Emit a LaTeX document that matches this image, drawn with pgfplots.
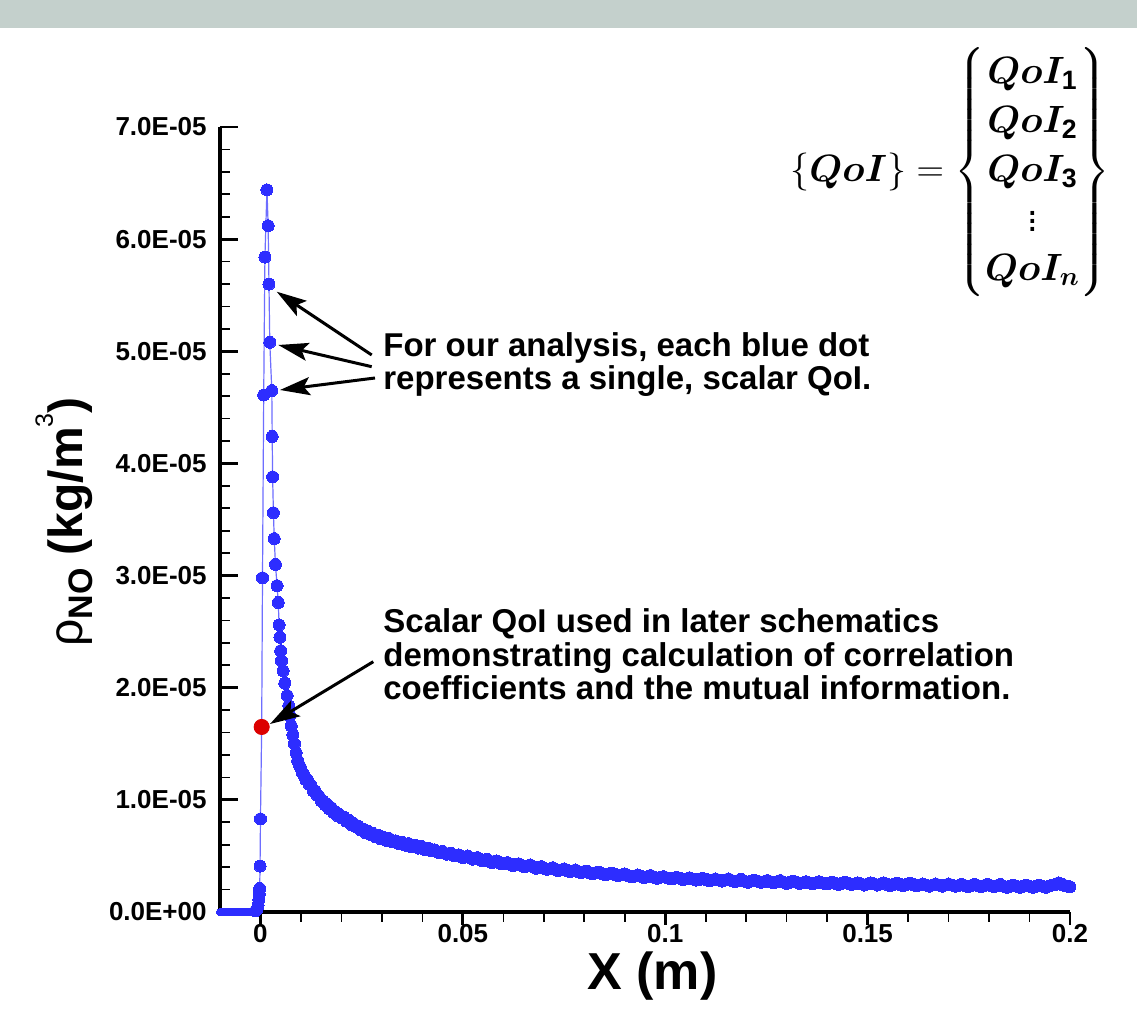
\RequirePackage{fix-cm}
\documentclass[border=0pt]{standalone}
\usepackage{amsmath}
\usepackage{bm}
\usepackage{fontspec}
\setmainfont{Liberation Sans}
\usepackage{pgfplots}
\pgfplotsset{compat=1.18}
\usetikzlibrary{arrows.meta}
\definecolor{dotblue}{RGB}{45,45,255}
\definecolor{lineblue}{RGB}{110,110,255}
\definecolor{dotred}{RGB}{220,0,0}
\definecolor{band}{RGB}{196,208,204}
\begin{document}
\begin{tikzpicture}[x=1pt,y=1pt]
\useasboundingbox (-110,-60.5) rectangle (458.5,456);
\fill[white] (-110,-60.5) rectangle (458.5,456);
\fill[band] (-110,442) rectangle (458.5,456);
\begin{axis}[at={(0,0)}, anchor=south west, scale only axis,
  width=425pt, height=392.5pt,
  xmin=-0.01, xmax=0.2, ymin=0, ymax=7e-5,
  axis x line=bottom, axis y line=left,
  axis line style={-, line width=1.6pt, black},
  clip=false,
  xtick={0,0.05,0.1,0.15,0.2},
  xticklabels={0,0.05,0.1,0.15,0.2},
  minor x tick num=4,
  ytick={0,1e-5,2e-5,3e-5,4e-5,5e-5,6e-5,7e-5},
  yticklabels={0.0E+00,1.0E-05,2.0E-05,3.0E-05,4.0E-05,5.0E-05,6.0E-05,7.0E-05},
  minor y tick num=4,
  tick align=inside,
  major tick length=9pt, minor tick length=5pt,
  major tick style={line width=1.4pt, black},
  minor tick style={line width=0.8pt, black},
  major x tick style={yshift=-6.5pt, /pgfplots/major tick length=6.5pt},
  minor x tick style={yshift=-5pt},
  yticklabel style={font=\fontsize{13}{15}\selectfont\bfseries, anchor=east, inner sep=0pt, xshift=-6.5pt},
  xticklabel style={font=\fontsize{13}{15}\selectfont\bfseries, anchor=north, inner sep=0pt, yshift=-6pt},
  scaled y ticks=false, scaled x ticks=false,
  every axis plot/.append style={mark options={draw=dotblue, fill=dotblue, line width=0pt}},
]
% flat part before the rise
\addplot[lineblue, line width=0.6pt, mark=*, mark size=1.8pt] coordinates {
(-0.0100,0) (-0.0095,0) (-0.0090,0) (-0.0085,0) (-0.0080,0) (-0.0075,0) (-0.0070,0) (-0.0065,0)
(-0.0060,0) (-0.0055,0) (-0.0050,0) (-0.0045,0) (-0.0040,0) (-0.0035,0) (-0.0030,0) (-0.0025,0)
(-0.0020,0) (-0.0015,0) (-0.0012,0.1e-6)
};
% rise, peak and decay
\addplot[lineblue, line width=0.6pt, mark=*, mark size=3pt] table[x=x, y=y] {
x y
-0.0012 0.1e-6
-0.0008 0.3e-6
-0.0006 0.6e-6
-0.0004 1.1e-6
-0.0003 1.6e-6
-0.0002 2.1e-6
-0.0001 4.1e-6
0.0000 8.3e-6
0.0003 1.65e-5
0.0005 2.98e-5
0.0008 4.61e-5
0.0011 5.84e-5
0.0016 6.44e-5
0.0019 6.12e-5
0.0021 5.60e-5
0.0023 5.08e-5
0.0028 4.65e-5
0.0029 4.24e-5
0.0030 3.88e-5
0.0032 3.56e-5
0.0034 3.33e-5
0.0037 3.10e-5
0.0041 2.91e-5
0.0044 2.76e-5
0.0046 2.56e-5
0.0048 2.45e-5
0.0050 2.33e-5
0.0052 2.24e-5
0.0056 2.15e-5
0.0060 2.04e-5
0.0066 1.93e-5
0.0070 1.84e-5
0.0073 1.75e-5
0.0076 1.66e-5
0.0080 1.58e-5
0.0084 1.50e-5
0.0088 1.42e-5
0.0092 1.35e-5
0.0096 1.31e-5
0.0100 1.28e-5
0.0104 1.24e-5
0.0108 1.22e-5
0.0112 1.18e-5
0.0116 1.18e-5
0.0120 1.14e-5
0.0125 1.13e-5
0.0130 1.08e-5
0.0135 1.08e-5
0.0140 1.04e-5
0.0145 1.03e-5
0.0150 0.99e-5
0.0155 0.99e-5
0.0160 0.955e-5
0.0165 0.96e-5
0.0170 0.92e-5
0.0175 0.93e-5
0.0180 0.89e-5
0.0185 0.895e-5
0.0190 0.86e-5
0.0195 0.87e-5
0.0200 0.84e-5
0.0206 0.845e-5
0.0212 0.81e-5
0.0218 0.82e-5
0.0224 0.78e-5
0.0230 0.79e-5
0.0236 0.76e-5
0.0242 0.765e-5
0.0248 0.73e-5
0.0254 0.74e-5
0.0260 0.705e-5
0.0266 0.72e-5
0.0272 0.69e-5
0.0278 0.70e-5
0.0284 0.67e-5
0.0290 0.685e-5
0.0296 0.655e-5
0.0302 0.67e-5
0.0306 0.655e-5
0.0310 0.64e-5
0.0314 0.65e-5
0.0318 0.655e-5
0.0322 0.64e-5
0.0326 0.625e-5
0.0330 0.63e-5
0.0334 0.635e-5
0.0338 0.62e-5
0.0342 0.61e-5
0.0346 0.615e-5
0.0350 0.62e-5
0.0354 0.605e-5
0.0358 0.595e-5
0.0362 0.60e-5
0.0366 0.61e-5
0.0370 0.595e-5
0.0374 0.58e-5
0.0378 0.59e-5
0.0382 0.595e-5
0.0386 0.58e-5
0.0390 0.57e-5
0.0394 0.58e-5
0.0398 0.585e-5
0.0402 0.57e-5
0.0406 0.555e-5
0.0410 0.565e-5
0.0414 0.57e-5
0.0418 0.555e-5
0.0422 0.545e-5
0.0426 0.55e-5
0.0430 0.555e-5
0.0435 0.54e-5
0.0440 0.53e-5
0.0445 0.535e-5
0.0450 0.54e-5
0.0455 0.525e-5
0.0460 0.515e-5
0.0465 0.52e-5
0.0470 0.525e-5
0.0475 0.51e-5
0.0480 0.50e-5
0.0485 0.505e-5
0.0490 0.51e-5
0.0495 0.495e-5
0.0500 0.485e-5
0.0506 0.49e-5
0.0512 0.50e-5
0.0518 0.485e-5
0.0524 0.47e-5
0.0530 0.48e-5
0.0536 0.485e-5
0.0542 0.47e-5
0.0548 0.455e-5
0.0554 0.465e-5
0.0560 0.47e-5
0.0566 0.455e-5
0.0572 0.44e-5
0.0578 0.45e-5
0.0584 0.455e-5
0.0590 0.44e-5
0.0596 0.43e-5
0.0603 0.435e-5
0.0610 0.44e-5
0.0617 0.425e-5
0.0624 0.415e-5
0.0631 0.425e-5
0.0638 0.43e-5
0.0645 0.415e-5
0.0652 0.405e-5
0.0659 0.41e-5
0.0666 0.42e-5
0.0673 0.405e-5
0.0680 0.39e-5
0.0687 0.40e-5
0.0694 0.405e-5
0.0701 0.39e-5
0.0708 0.38e-5
0.0715 0.385e-5
0.0722 0.395e-5
0.0729 0.38e-5
0.0736 0.37e-5
0.0743 0.375e-5
0.0750 0.385e-5
0.0757 0.37e-5
0.0764 0.36e-5
0.0771 0.365e-5
0.0778 0.375e-5
0.0785 0.36e-5
0.0792 0.35e-5
0.0799 0.36e-5
0.0806 0.365e-5
0.0813 0.35e-5
0.0820 0.34e-5
0.0828 0.35e-5
0.0836 0.355e-5
0.0844 0.34e-5
0.0852 0.33e-5
0.0860 0.34e-5
0.0868 0.345e-5
0.0876 0.335e-5
0.0884 0.325e-5
0.0892 0.33e-5
0.0900 0.34e-5
0.0908 0.325e-5
0.0916 0.315e-5
0.0924 0.32e-5
0.0932 0.33e-5
0.0940 0.32e-5
0.0948 0.305e-5
0.0956 0.315e-5
0.0964 0.325e-5
0.0972 0.31e-5
0.0980 0.30e-5
0.0988 0.31e-5
0.0996 0.315e-5
0.1004 0.305e-5
0.1012 0.295e-5
0.1020 0.30e-5
0.1028 0.31e-5
0.1036 0.30e-5
0.1044 0.29e-5
0.1052 0.295e-5
0.1060 0.305e-5
0.1068 0.295e-5
0.1076 0.285e-5
0.1084 0.29e-5
0.1092 0.30e-5
0.1100 0.29e-5
0.1108 0.28e-5
0.1116 0.285e-5
0.1124 0.295e-5
0.1132 0.285e-5
0.1140 0.275e-5
0.1148 0.285e-5
0.1156 0.295e-5
0.1164 0.28e-5
0.1172 0.27e-5
0.1180 0.28e-5
0.1188 0.29e-5
0.1196 0.275e-5
0.1204 0.265e-5
0.1212 0.275e-5
0.1220 0.285e-5
0.1228 0.275e-5
0.1236 0.265e-5
0.1244 0.27e-5
0.1252 0.28e-5
0.1260 0.27e-5
0.1268 0.26e-5
0.1276 0.27e-5
0.1284 0.28e-5
0.1292 0.265e-5
0.1300 0.255e-5
0.1308 0.265e-5
0.1316 0.275e-5
0.1324 0.265e-5
0.1332 0.255e-5
0.1340 0.26e-5
0.1348 0.27e-5
0.1356 0.26e-5
0.1364 0.25e-5
0.1372 0.26e-5
0.1380 0.27e-5
0.1388 0.26e-5
0.1396 0.25e-5
0.1404 0.255e-5
0.1412 0.265e-5
0.1420 0.255e-5
0.1428 0.245e-5
0.1436 0.255e-5
0.1444 0.265e-5
0.1452 0.255e-5
0.1460 0.245e-5
0.1468 0.25e-5
0.1476 0.26e-5
0.1484 0.25e-5
0.1492 0.24e-5
0.1500 0.25e-5
0.1508 0.26e-5
0.1516 0.25e-5
0.1524 0.24e-5
0.1532 0.25e-5
0.1540 0.26e-5
0.1548 0.245e-5
0.1556 0.235e-5
0.1564 0.245e-5
0.1572 0.255e-5
0.1580 0.245e-5
0.1588 0.235e-5
0.1596 0.245e-5
0.1604 0.255e-5
0.1612 0.245e-5
0.1620 0.235e-5
0.1628 0.24e-5
0.1636 0.25e-5
0.1644 0.24e-5
0.1652 0.23e-5
0.1660 0.24e-5
0.1668 0.25e-5
0.1676 0.24e-5
0.1684 0.23e-5
0.1692 0.24e-5
0.1700 0.25e-5
0.1708 0.24e-5
0.1716 0.23e-5
0.1724 0.235e-5
0.1732 0.245e-5
0.1740 0.235e-5
0.1748 0.225e-5
0.1756 0.235e-5
0.1764 0.245e-5
0.1772 0.235e-5
0.1780 0.225e-5
0.1788 0.235e-5
0.1796 0.245e-5
0.1804 0.235e-5
0.1812 0.225e-5
0.1820 0.235e-5
0.1828 0.245e-5
0.1836 0.23e-5
0.1844 0.22e-5
0.1852 0.23e-5
0.1860 0.24e-5
0.1868 0.23e-5
0.1876 0.22e-5
0.1884 0.23e-5
0.1892 0.24e-5
0.1900 0.23e-5
0.1908 0.22e-5
0.1916 0.23e-5
0.1924 0.24e-5
0.1932 0.23e-5
0.1940 0.22e-5
0.1948 0.23e-5
0.1956 0.24e-5
0.1964 0.245e-5
0.1972 0.26e-5
0.1980 0.245e-5
0.1988 0.235e-5
0.1994 0.23e-5
0.2000 0.225e-5
};
% highlighted scalar QoI
\addplot[only marks, mark=*, mark size=3.8pt, mark options={draw=dotred, fill=dotred}] coordinates {(0.0003,1.65e-5)};
\end{axis}
% annotations
\begin{scope}[every node/.style={anchor=base west, inner sep=0pt, font=\fontsize{16.5}{16.5}\selectfont\bfseries}]
\node at (81.5,277.5) {For our analysis, each blue dot};
\node at (81.5,261) {represents a single, scalar QoI.};
\node at (81.5,139.5) {Scalar QoI used in later schematics};
\node at (81.5,122.75) {demonstrating calculation of correlation};
\node at (81.5,106) {coefficients and the mutual information.};
\end{scope}
\begin{scope}[line width=1.5pt, -{Stealth[length=15pt, width=9pt, inset=3pt]}]
\draw (75.85,278.5) -- (28.35,310.15);
\draw (75.85,272.65) -- (29.15,283.5);
\draw (77.5,267) -- (30,261);
\draw (76.65,125.15) -- (25,94);
\end{scope}
% axis labels
\node[anchor=base, inner sep=0pt, font=\fontsize{26}{26}\selectfont\bfseries] at (216.25,-39) {X (m)};
\node[rotate=90, anchor=base, inner sep=0pt, font=\fontsize{24}{24}\selectfont\bfseries] at (-68.5,195)
  {{\mdseries ρ}\raisebox{-5pt}{\fontsize{17}{17}\selectfont NO} (kg/m\raisebox{15pt}{\fontsize{12.5}{12.5}\selectfont\mdseries 3})};
% QoI vector
\node[anchor=west, inner sep=0pt, font=\fontsize{19}{23}\selectfont] at (285,370)
  {$\{\bm{QoI}\} = \left\{\renewcommand{\arraystretch}{1.07}\begin{matrix}
   \bm{QoI}_{\mathbf{1}}\\ \bm{QoI}_{\mathbf{2}}\\ \bm{QoI}_{\mathbf{3}}\\ \vdots\\ \bm{QoI}_{\bm{n}}
   \end{matrix}\right\}$};
\end{tikzpicture}
\end{document}
